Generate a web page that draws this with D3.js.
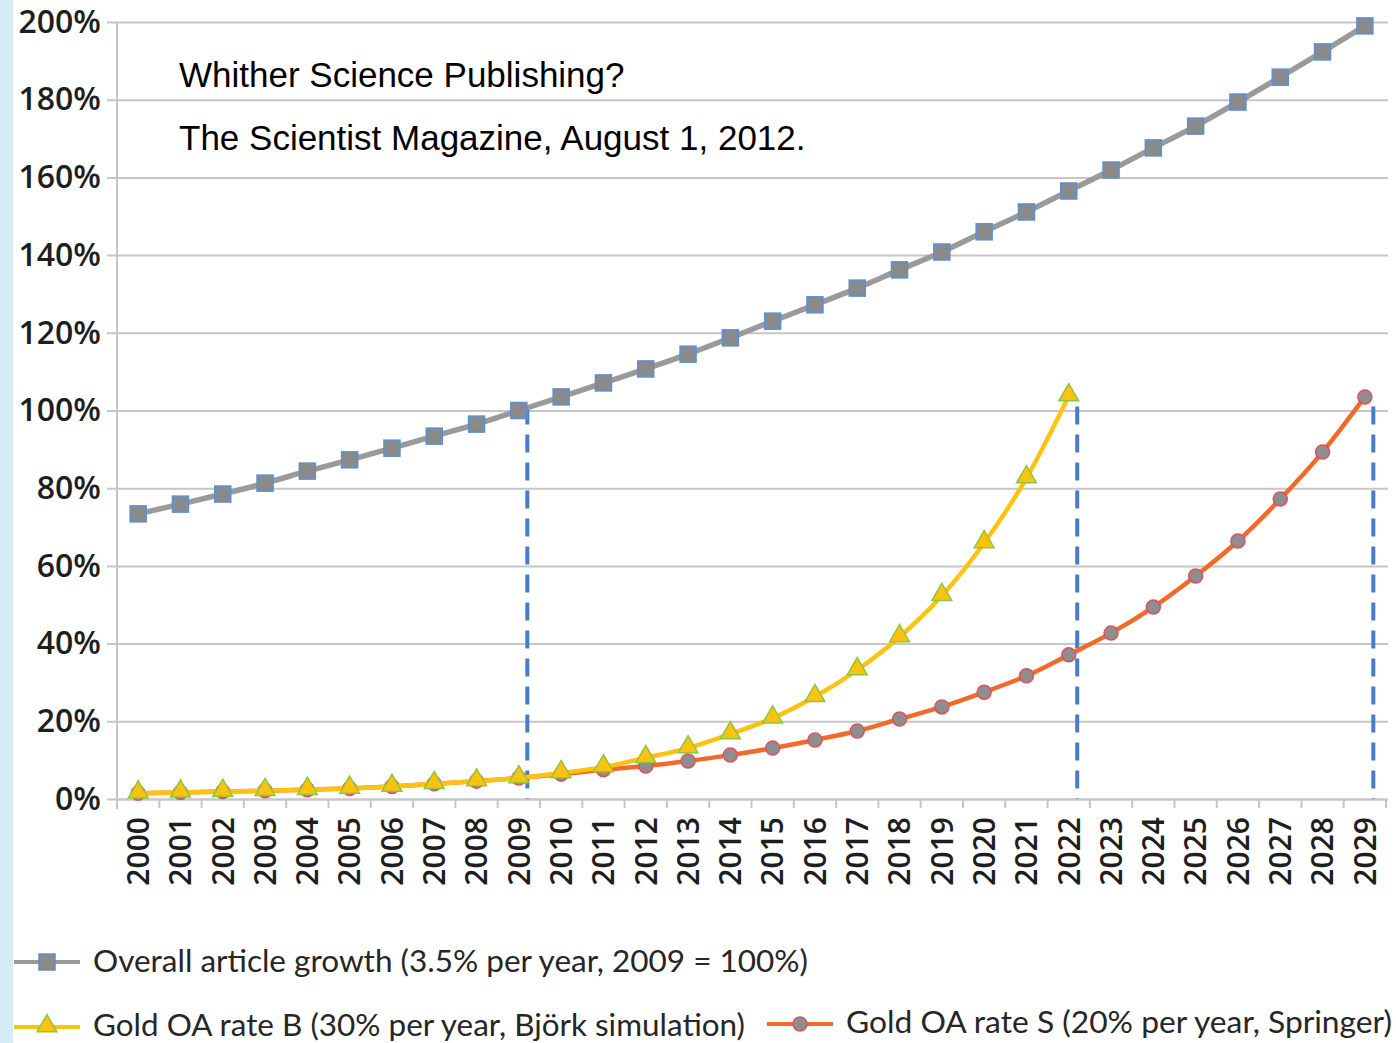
<!DOCTYPE html>
<html>
<head>
<meta charset="utf-8">
<script src="https://cdn.jsdelivr.net/npm/d3@7"></script>
<style>
  body { margin: 0; background: #fff; }
  svg { display: block; }
</style>
</head>
<body>
<div id="chart"></div>
<script>
const years = d3.range(2000, 2030).map(String);

// overall article growth, % of 2009
const overall = [73.4, 75.9, 78.5, 81.3, 84.4, 87.3, 90.3, 93.4, 96.5, 100,
  103.5, 107.1, 110.7, 114.5, 118.7, 123.0, 127.2, 131.5, 136.2, 140.8,
  146.0, 151.1, 156.5, 161.9, 167.6, 173.2, 179.4, 185.8, 192.3, 199.0];

// gold OA rate B (ends 2022)
const goldB = [1.5, 1.7, 1.9, 2.1, 2.4, 2.7, 3.2, 3.9, 4.6, 5.4,
  6.7, 8.2, 10.6, 13.1, 16.7, 20.8, 26.3, 33.2, 41.7, 52.3,
  65.9, 82.6, 103.7];

// gold OA rate S
const goldS = [1.5, 1.7, 1.9, 2.1, 2.4, 2.7, 3.2, 3.9, 4.6, 5.4,
  6.4, 7.5, 8.5, 9.8, 11.3, 13.1, 15.2, 17.5, 20.6, 23.7,
  27.5, 31.7, 37.1, 42.7, 49.4, 57.4, 66.4, 77.2, 89.3, 103.5];

const markerYears = ["2009", "2022", "2029"];
const markerTop = 101;

const yTicks = [0, 20, 40, 60, 80, 100, 120, 140, 160, 180, 200];

const legendLabels = [
  "Overall article growth (3.5% per year, 2009 = 100%)",
  "Gold OA rate B (30% per year, Björk simulation)",
  "Gold OA rate S (20% per year, Springer)"
];

const titleLines = ["Whither Science Publishing?", "The Scientist Magazine, August 1, 2012."];

const width = 1396, height = 1043;
const plot = { left: 117, right: 1386, top: 22, bottom: 799 };

const svg = d3.select("#chart").append("svg")
  .attr("width", width)
  .attr("height", height);

svg.append("rect")
  .attr("x", 0).attr("y", 0)
  .attr("width", 13).attr("height", height)
  .attr("fill", "#d3ecf5");

const x = d3.scaleBand()
  .domain(years)
  .range([plot.left, plot.right])
  .padding(0);

const y = d3.scaleLinear()
  .domain([0, 200])
  .range([plot.bottom, plot.top]);

const cx = d => x(d) + x.bandwidth() / 2;

// grid + y labels
const yAxis = svg.append("g")
  .attr("transform", `translate(${plot.left},0)`)
  .call(d3.axisLeft(y).tickValues(yTicks).tickFormat(d => d + "%")
    .tickSize(-(plot.right - plot.left + 2)).tickSizeOuter(0).tickPadding(16));
yAxis.select(".domain").remove();
yAxis.selectAll(".tick line")
  .attr("x1", -10)
  .attr("stroke", "#c6c6c6")
  .attr("stroke-width", 2);
yAxis.selectAll(".tick text")
  .attr("fill", "#1e1e1e")
  .style("font-family", "'Open Sans', sans-serif")
  .style("font-size", "32px")
  .style("font-weight", 600);

svg.append("line")
  .attr("x1", plot.left).attr("x2", plot.left)
  .attr("y1", plot.top).attr("y2", plot.bottom + 10)
  .attr("stroke", "#c6c6c6").attr("stroke-width", 2);

// x axis
const xAxis = svg.append("g")
  .attr("transform", `translate(0,${plot.bottom})`)
  .call(d3.axisBottom(x).tickSize(0).tickPadding(0));
xAxis.select(".domain")
  .attr("stroke", "#c6c6c6").attr("stroke-width", 2);
xAxis.selectAll(".tick text")
  .attr("transform", "rotate(-90)")
  .attr("x", -18)
  .attr("y", 0)
  .attr("dy", "0.36em")
  .attr("text-anchor", "end")
  .attr("fill", "#1e1e1e")
  .style("font-family", "'Open Sans', sans-serif")
  .style("font-size", "30px")
  .style("font-weight", 600);

svg.append("g")
  .selectAll("line")
  .data(years)
  .join("line")
  .attr("x1", d => x(d) + x.bandwidth())
  .attr("x2", d => x(d) + x.bandwidth())
  .attr("y1", plot.bottom)
  .attr("y2", plot.bottom + 9)
  .attr("stroke", "#c6c6c6")
  .attr("stroke-width", 2);

// blue dashed markers
svg.append("g")
  .selectAll("line")
  .data(markerYears)
  .join("line")
  .attr("x1", d => x(d) + x.bandwidth() * 0.7)
  .attr("x2", d => x(d) + x.bandwidth() * 0.7)
  .attr("y1", y(markerTop))
  .attr("y2", y(0))
  .attr("stroke", "#4a7cc4")
  .attr("stroke-width", 4)
  .attr("stroke-dasharray", "18,10");

const line = d3.line()
  .x((d, i) => cx(years[i]))
  .y(d => y(d))
  .curve(d3.curveMonotoneX);

// overall growth
svg.append("path")
  .attr("d", line(overall))
  .attr("fill", "none")
  .attr("stroke", "#9a9a9a")
  .attr("stroke-width", 5.5);
svg.append("g")
  .selectAll("rect")
  .data(overall)
  .join("rect")
  .attr("x", (d, i) => cx(years[i]) - 8)
  .attr("y", d => y(d) - 8)
  .attr("width", 16).attr("height", 16)
  .attr("fill", "#8a8a8a")
  .attr("stroke", "#5a8fd6")
  .attr("stroke-width", 1.5);

// gold S
svg.append("path")
  .attr("d", line(goldS))
  .attr("fill", "none")
  .attr("stroke", "#f26a2a")
  .attr("stroke-width", 4.5);
svg.append("g")
  .selectAll("circle")
  .data(goldS)
  .join("circle")
  .attr("cx", (d, i) => cx(years[i]))
  .attr("cy", d => y(d))
  .attr("r", 7)
  .attr("fill", "#8e8e8e")
  .attr("stroke", "#e0525a")
  .attr("stroke-width", 1.5);

// gold B
svg.append("path")
  .attr("d", line(goldB))
  .attr("fill", "none")
  .attr("stroke", "#ffc20e")
  .attr("stroke-width", 4.5);
const tri = d3.symbol().type(d3.symbolTriangle).size(170);
svg.append("g")
  .selectAll("path")
  .data(goldB)
  .join("path")
  .attr("transform", (d, i) => `translate(${cx(years[i])},${y(d) - 1})`)
  .attr("d", tri)
  .attr("fill", "#ffc20e")
  .attr("stroke", "#8dc63f")
  .attr("stroke-width", 1.5);

// title text
svg.append("g")
  .selectAll("text")
  .data(titleLines)
  .join("text")
  .attr("x", 179)
  .attr("y", (d, i) => 87 + i * 63)
  .attr("fill", "#000")
  .style("font-family", "'Liberation Sans', Arial, sans-serif")
  .style("font-size", "35px")
  .text(d => d);

// legend
const legendFont = "'Lato', 'Open Sans', sans-serif";
const legend = [
  { x0: 14, y0: 962, tx: 93, ty: 972, color: "#9a9a9a", kind: "square", w: 715 },
  { x0: 14, y0: 1027, tx: 93, ty: 1036, color: "#ffc20e", kind: "triangle", w: 652 },
  { x0: 767, y0: 1024, tx: 846, ty: 1033, color: "#f26a2a", kind: "circle", w: 546 }
];
legend.forEach((l, i) => {
  const g = svg.append("g");
  g.append("line")
    .attr("x1", l.x0).attr("x2", l.x0 + 66)
    .attr("y1", l.y0).attr("y2", l.y0)
    .attr("stroke", l.color).attr("stroke-width", 4);
  const mx = l.x0 + 33;
  if (l.kind === "square") {
    g.append("rect").attr("x", mx - 8).attr("y", l.y0 - 8)
      .attr("width", 16).attr("height", 16)
      .attr("fill", "#8a8a8a").attr("stroke", "#5a8fd6").attr("stroke-width", 1.5);
  } else if (l.kind === "triangle") {
    g.append("path").attr("transform", `translate(${mx},${l.y0 - 1})`)
      .attr("d", tri).attr("fill", "#ffc20e").attr("stroke", "#8dc63f").attr("stroke-width", 1.5);
  } else {
    g.append("circle").attr("cx", mx).attr("cy", l.y0).attr("r", 7)
      .attr("fill", "#8e8e8e").attr("stroke", "#e0525a").attr("stroke-width", 1.5);
  }
  g.append("text")
    .attr("x", l.tx).attr("y", l.ty)
    .attr("fill", "#262626")
    .attr("textLength", l.w)
    .attr("lengthAdjust", "spacingAndGlyphs")
    .style("font-family", legendFont)
    .style("font-size", "30px")
    .text(legendLabels[i]);
});
</script>
</body>
</html>
